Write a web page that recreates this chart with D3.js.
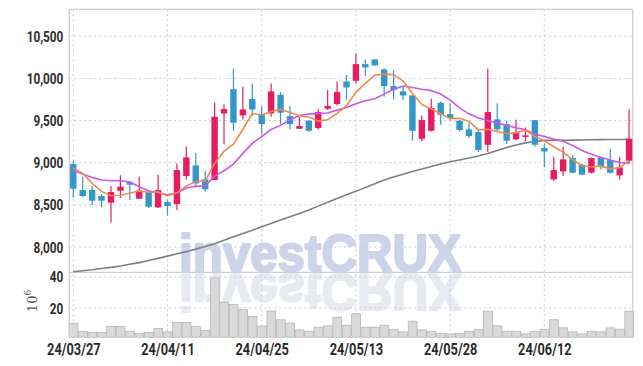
<!DOCTYPE html>
<html>
<head>
<meta charset="utf-8">
<script src="https://cdn.jsdelivr.net/npm/d3@7"></script>
<style>
html,body{margin:0;padding:0;background:#fff;}
svg{display:block;}
.tick text{font-family:Roboto,"Liberation Sans",sans-serif;font-weight:bold;fill:#2b2b2b;}
</style>
</head>
<body>
<svg id="chart" width="643" height="366"></svg>
<script>
const dates = ["24/03/27","24/03/28","24/03/29","24/04/01","24/04/02","24/04/03","24/04/04","24/04/05","24/04/08","24/04/09",
"24/04/11","24/04/12","24/04/15","24/04/16","24/04/17","24/04/18","24/04/19","24/04/22","24/04/23","24/04/24",
"24/04/25","24/04/26","24/04/29","24/04/30","24/05/02","24/05/03","24/05/07","24/05/08","24/05/09","24/05/10",
"24/05/13","24/05/14","24/05/16","24/05/17","24/05/20","24/05/21","24/05/22","24/05/23","24/05/24","24/05/27",
"24/05/28","24/05/29","24/05/30","24/05/31","24/06/03","24/06/04","24/06/05","24/06/07","24/06/10","24/06/11",
"24/06/12","24/06/13","24/06/14","24/06/17","24/06/18","24/06/19","24/06/20","24/06/21","24/06/24","24/06/25"];
const openP = [8984,8676,8676,8605,8526,8668,8771,8573,8652,8470,8533,8510,8842,8968,8802,8794,9585,9873,9561,9755,
9570,9585,9806,9553,9403,9498,9411,9640,9696,9964,9972,10170,10225,10107,9909,9846,9798,9284,9379,9711,
9577,9498,9395,9364,9213,9514,9458,9277,9308,9506,9174,8802,8897,9055,8976,8881,9063,9032,8850,9024];
const highP = [9020,8834,8723,8628,8723,8850,8786,8834,8660,8858,8565,8992,9190,9118,8905,9711,9690,10115,9901,9941,
9671,9941,9838,9672,9545,9506,9640,9862,9964,10043,10296,10225,10230,10122,10099,9901,9800,9561,9759,9727,
9704,9506,9474,9387,10115,9704,9498,9514,9419,9506,9229,9071,9190,9087,8992,9063,9071,9166,9071,9632];
const lowP = [8585,8597,8494,8470,8292,8581,8557,8573,8462,8462,8375,8439,8802,8707,8660,8794,9221,9379,9514,9553,
9340,9545,9458,9395,9400,9364,9395,9624,9680,9751,9941,10028,10150,9783,9751,9743,9261,9253,9371,9451,
9498,9371,9292,9126,9126,9364,9221,9269,9253,9190,8945,8786,8842,8873,8850,8873,8921,8873,8802,8992];
const closeP = [8692,8605,8549,8549,8652,8715,8739,8668,8478,8676,8486,8913,9063,8755,8684,9545,9636,9474,9632,9632,
9458,9846,9593,9458,9435,9379,9601,9672,9838,9893,10170,10130,10154,9909,9862,9798,9379,9506,9648,9569,
9530,9387,9316,9150,9601,9395,9261,9364,9324,9213,9134,8913,9039,8881,8858,9055,8960,8881,8945,9284];
const ma5 = [8937,8873,8755,8660,8609,8614,8641,8665,8650,8655,8609,8644,8723,8779,8780,8992,9137,9219,9394,9584,
9566,9608,9632,9597,9558,9542,9493,9509,9585,9677,9835,9941,10037,10051,10045,9971,9820,9691,9639,9580,
9526,9528,9490,9390,9397,9370,9345,9354,9389,9311,9259,9190,9125,9036,8965,8949,8959,8927,8940,9025];
const ma20 = [8905,8866,8826,8794,8786,8786,8771,8715,8668,8644,8620,8640,8700,8720,8725,8842,8905,8984,9111,9230,
9310,9395,9443,9506,9561,9577,9585,9590,9624,9656,9700,9735,9759,9814,9870,9910,9893,9872,9855,9815,
9743,9650,9580,9530,9500,9470,9445,9415,9390,9340,9310,9280,9255,9205,9145,9100,9063,9032,9003,8995];
const maLong = [7706,7718,7730,7745,7758,7775,7795,7815,7840,7865,7892,7920,7945,7975,8005,8040,8080,8121,8160,8200,
8240,8280,8320,8360,8398,8440,8485,8530,8575,8620,8660,8705,8750,8794,8830,8862,8895,8925,8955,8985,
9011,9032,9055,9080,9110,9145,9180,9210,9235,9252,9265,9265,9265,9268,9270,9272,9274,9275,9276,9277];
const volume = [10.2,5.0,4.1,4.1,8.0,8.0,5.0,3.7,4.1,6.7,4.6,10.7,10.7,8.0,5.4,39.3,23.7,22.4,18.9,14.6,
8.3,18.0,12.4,10.2,5.9,5.0,7.6,8.5,14.1,8.9,16.3,7.6,7.6,8.9,6.3,4.6,11.5,5.9,5.0,3.7,
3.3,3.7,5.0,6.3,18.0,8.5,5.0,5.0,3.3,5.0,6.3,12.4,7.2,4.6,3.3,5.0,4.6,7.2,6.3,18.0];
const priceTicks = [8000,8500,9000,9500,10000,10500];
const volTicks = [20,40];
const dateTicks = ["24/03/27","24/04/11","24/04/25","24/05/13","24/05/28","24/06/12"];

const L = 69.3, R = 632.7, T = 9.3, PB = 272.3, VB = 337.3;
const svg = d3.select("#chart");
const x = d3.scalePoint().domain(dates).range([73.3, 629.1]);
const y = d3.scaleLinear().domain([7700, 10820]).range([PB, T]);
const vy = d3.scaleLinear().domain([0, 43]).range([339, PB]);
const RED = "#e61c62", BLUE = "#3497c9";

// watermark
const wm = svg.append("g");
const wmText = (fill, tr) => {
  const t = wm.append("text").attr("x", 179).attr("y", 271).attr("textLength", 282).attr("lengthAdjust","spacingAndGlyphs")
    .style("font-family","Liberation Sans, Arial, sans-serif").style("font-weight","bold").style("font-size","52px")
    .style("fill", fill).style("stroke", fill).style("stroke-width", 2.2).style("stroke-linejoin","round").text("investCRUX");
  if (tr) t.attr("transform", tr);
};
wmText("#cdd3e8", null);
wmText("#e8eaf2", "translate(0,545) scale(1,-1)");

// grid
const grid = svg.append("g").attr("stroke","#c5cadb").attr("stroke-width",1).attr("stroke-dasharray","2,3");
grid.selectAll(".hg").data(priceTicks).join("line")
  .attr("x1", L).attr("x2", R).attr("y1", d => y(d)).attr("y2", d => y(d));
grid.selectAll(".vg").data(volTicks).join("line").attr("class","vgl")
  .attr("x1", L).attr("x2", R).attr("y1", d => vy(d)).attr("y2", d => vy(d));
grid.selectAll(".xg").data(dateTicks).join("line").attr("class","xgl")
  .attr("x1", d => x(d)).attr("x2", d => x(d)).attr("y1", T).attr("y2", VB);

// volume bars
const bw = x.step();
svg.append("g").selectAll("rect").data(volume).join("rect")
  .attr("x", (d,i) => x(dates[i]) - bw/2 + 0.5).attr("width", bw - 0.6)
  .attr("y", d => vy(d)).attr("height", d => VB - vy(d))
  .attr("fill","#d9d9d9").attr("stroke","#b0b0b0").attr("stroke-width",0.7);

// frame
const frame = svg.append("g").attr("stroke","#cfcfcf").attr("stroke-width",1.3).attr("fill","none");
frame.append("rect").attr("x", L).attr("y", T).attr("width", R - L).attr("height", VB - T);
frame.append("line").attr("x1", L).attr("x2", R).attr("y1", PB).attr("y2", PB);

// long MA line
const line = arr => d3.line().x((d,i) => x(dates[i])).y(d => y(d))(arr);
svg.append("path").attr("d", line(maLong)).attr("fill","none").attr("stroke","#7f7f7f").attr("stroke-width",1.6);

// candles
const cg = svg.append("g");
dates.forEach((dt, i) => {
  const up = closeP[i] >= openP[i];
  const c = up ? RED : BLUE;
  const cx = x(dt);
  cg.append("line").attr("x1", cx).attr("x2", cx).attr("y1", y(highP[i])).attr("y2", y(lowP[i]))
    .attr("stroke", c).attr("stroke-width", 1.2);
  const top = y(Math.max(openP[i], closeP[i])), bot = y(Math.min(openP[i], closeP[i]));
  cg.append("rect").attr("x", cx - 3.2).attr("width", 6.4).attr("y", top).attr("height", Math.max(bot - top, 1.5))
    .attr("fill", c);
});

svg.append("path").attr("d", line(ma20)).attr("fill","none").attr("stroke","#cc55ee").attr("stroke-width",1.6);
svg.append("path").attr("d", line(ma5)).attr("fill","none").attr("stroke","#ef8a4f").attr("stroke-width",1.6);

// axes
const ya = svg.append("g").attr("transform", `translate(${L - 6},0)`)
  .call(d3.axisLeft(y).tickValues(priceTicks).tickSize(0).tickPadding(0).tickFormat(d3.format(",")));
ya.select(".domain").remove();
ya.selectAll("text").style("font-size","14px").attr("dy","0.36em").attr("transform","scale(0.84,1)");
const va = svg.append("g").attr("transform", `translate(${L - 6},0)`)
  .call(d3.axisLeft(vy).tickValues(volTicks).tickSize(0).tickPadding(0));
va.select(".domain").remove();
va.selectAll("text").style("font-size","14px").attr("dy","0.36em").attr("transform","scale(0.84,1)");
const xa = svg.append("g").attr("transform", `translate(0,${VB})`)
  .call(d3.axisBottom(x).tickValues(dateTicks).tickSize(0).tickPadding(6));
xa.select(".domain").remove();
xa.selectAll("text").style("font-size","16px").attr("transform","scale(0.8,1)");

// unit label
const ul = svg.append("text").attr("transform","translate(37,301) rotate(-90)").attr("text-anchor","middle")
  .style("font-family","DejaVu Serif, Liberation Serif, serif").style("font-size","13px").style("fill","#555");
ul.append("tspan").text("10");
ul.append("tspan").attr("dy", -6).style("font-size","9px").text("6");
</script>
</body>
</html>
